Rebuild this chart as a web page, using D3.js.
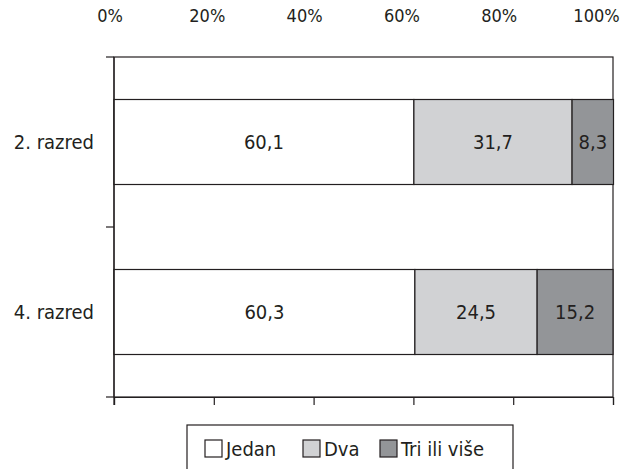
<!DOCTYPE html>
<html>
<head>
<meta charset="utf-8">
<script src="https://cdn.jsdelivr.net/npm/d3@7"></script>
<style>
  body { margin: 0; background: #fff; }
  text { font-family: "DejaVu Sans Condensed", "DejaVu Sans", sans-serif; fill: #231f20; }
</style>
</head>
<body>
<svg id="chart"></svg>
<script>
// podaci
const categories = ['2. razred', '4. razred'];
const seriesNames = ['Jedan', 'Dva', 'Tri ili više'];
const jedan = [60.1, 60.3];
const dva = [31.7, 24.5];
const triIliVise = [8.3, 15.2];
const tickValues = [0, 20, 40, 60, 80, 100];
const tickLabels = ['0%', '20%', '40%', '60%', '80%', '100%'];

const width = 635, height = 469;
const margin = { top: 57, right: 22, bottom: 72, left: 114 };
const colors = ['#ffffff', '#d1d2d4', '#939598'];
const stroke = '#231f20';

const svg = d3.select('#chart').attr('width', width).attr('height', height);

const x = d3.scaleLinear().domain([0, 100]).range([margin.left, width - margin.right]);
const y = d3.scaleBand().domain(categories).range([margin.top, height - margin.bottom]).paddingInner(0.5).paddingOuter(0.25);
const yOuter = d3.scaleBand().domain(categories).range([margin.top, height - margin.bottom]);

const rows = categories.map((c, i) => ({ cat: c, values: [jedan[i], dva[i], triIliVise[i]] }));
const stack = d3.stack().keys([0, 1, 2]).value((d, k) => d.values[k]);
const layers = stack(rows);

// okvir
svg.append('rect')
  .attr('x', x(0)).attr('y', margin.top)
  .attr('width', x(100) - x(0)).attr('height', height - margin.bottom - margin.top)
  .attr('fill', 'none').attr('stroke', stroke).attr('stroke-width', 1.2);

// stupci
layers.forEach((layer, k) => {
  svg.append('g').selectAll('rect')
    .data(layer)
    .enter().append('rect')
    .attr('x', d => x(d[0]))
    .attr('y', d => y(d.data.cat))
    .attr('width', d => x(d[1]) - x(d[0]))
    .attr('height', y.bandwidth())
    .attr('fill', colors[k])
    .attr('stroke', stroke)
    .attr('stroke-width', 1.2);

  svg.append('g').selectAll('text')
    .data(layer)
    .enter().append('text')
    .attr('x', d => (x(d[0]) + x(d[1])) / 2)
    .attr('y', d => y(d.data.cat) + y.bandwidth() / 2)
    .attr('text-anchor', 'middle')
    .attr('dominant-baseline', 'central')
    .attr('font-size', 20)
    .text(d => d3.format('.1f')(d[1] - d[0]).replace('.', ','));
});

// X os (dolje, samo crtice)
const xAxis = svg.append('g')
  .attr('transform', `translate(0,${height - margin.bottom})`)
  .call(d3.axisBottom(x).tickValues(tickValues).tickSize(8).tickFormat(''));
xAxis.select('.domain').attr('stroke', stroke).attr('stroke-width', 1.2);
xAxis.selectAll('line').attr('stroke', stroke).attr('stroke-width', 1.2);

// oznake postotaka gore
svg.append('g').selectAll('text')
  .data(tickValues)
  .enter().append('text')
  .attr('x', (d, i) => x(d) - 4 - i * 2.5)
  .attr('y', 22)
  .attr('text-anchor', 'middle')
  .attr('font-size', 18)
  .text((d, i) => tickLabels[i]);

// Y os
const yAxis = svg.append('g')
  .attr('transform', `translate(${margin.left},0)`);
yAxis.append('line')
  .attr('x1', 0).attr('x2', 0)
  .attr('y1', margin.top).attr('y2', height - margin.bottom + 8)
  .attr('stroke', stroke).attr('stroke-width', 1.2);
const boundaries = [margin.top].concat(categories.map(c => yOuter(c) + yOuter.bandwidth()));
yAxis.selectAll('.tick')
  .data(boundaries)
  .enter().append('line')
  .attr('x1', -8).attr('x2', 0)
  .attr('y1', d => d).attr('y2', d => d)
  .attr('stroke', stroke).attr('stroke-width', 1.2);
yAxis.selectAll('text')
  .data(categories)
  .enter().append('text')
  .attr('x', -20)
  .attr('y', d => y(d) + y.bandwidth() / 2)
  .attr('text-anchor', 'end')
  .attr('dominant-baseline', 'central')
  .attr('font-size', 20)
  .text(d => d);

// legenda (donji rub izlazi iz slike)
const legend = svg.append('g');
legend.append('rect')
  .attr('x', 187).attr('y', 425).attr('width', 326).attr('height', 50)
  .attr('fill', '#fff').attr('stroke', stroke).attr('stroke-width', 1.2);
const legendX = [205, 303, 380];
seriesNames.forEach((name, k) => {
  legend.append('rect')
    .attr('x', legendX[k]).attr('y', 440).attr('width', 17).attr('height', 17)
    .attr('fill', colors[k]).attr('stroke', stroke).attr('stroke-width', 1.2);
  legend.append('text')
    .attr('x', legendX[k] + 21).attr('y', 449)
    .attr('dominant-baseline', 'central')
    .attr('font-size', 20)
    .text(name);
});
</script>
</body>
</html>
